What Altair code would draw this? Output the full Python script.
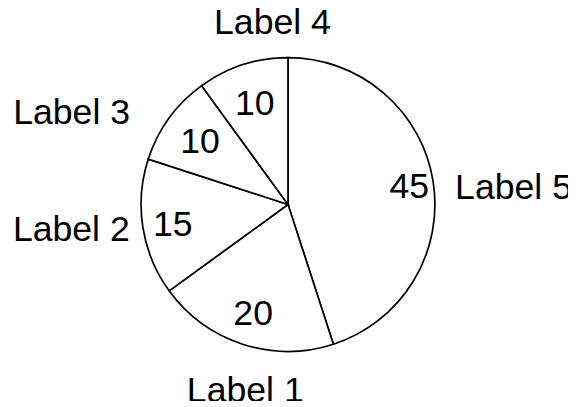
import math
import altair as alt
import pandas as pd

# Data (slices drawn clockwise from 12 o'clock in this order)
labels = ["Label 5", "Label 1", "Label 2", "Label 3", "Label 4"]
values = [45, 20, 15, 10, 10]

df = pd.DataFrame({"label": labels, "value": values, "order": list(range(len(labels)))})

FONT = "Liberation Sans"
FS = 36
R = 148.5

theta_scale = alt.Scale(domain=[0, 1], range=[0, 2 * math.pi])

base = (
    alt.Chart(df)
    .transform_window(cum="sum(value)", sort=[{"field": "order"}])
    .transform_joinaggregate(total="sum(value)")
    .transform_calculate(
        start="(datum.cum - datum.value) / datum.total",
        end="datum.cum / datum.total",
        mid="(datum.cum - datum.value / 2) / datum.total",
    )
)

arcs = base.mark_arc(
    outerRadius=R, fill="white", stroke="black", strokeWidth=1.7
).encode(
    theta=alt.Theta("start:Q", scale=theta_scale),
    theta2="end:Q",
)

# placement styles for the value labels (inside) and name labels (outside)
inner_styles = {
    "Label 5": dict(radius=124),
    "Label 1": dict(radius=114),
    "Label 2": dict(radius=118),
    "Label 3": dict(radius=110),
    "Label 4": dict(radius=109),
}
outer_styles = {
    "Label 5": dict(align="left", radius=171, dx=0, dy=10),
    "Label 1": dict(align="center", radius=198, dx=18, dy=0),
    "Label 2": dict(align="right", radius=164, dx=2, dy=0),
    "Label 3": dict(align="right", radius=164, dx=-27, dy=4),
    "Label 4": dict(align="center", radius=190, dx=43, dy=-3),
}

layers = [arcs]
for name in labels:
    sel = base.transform_filter(alt.datum.label == name)
    ist = inner_styles[name]
    layers.append(
        sel.mark_text(
            font=FONT, fontSize=FS, color="black", baseline="middle",
            align="center", radius=ist["radius"], dy=2,
        ).encode(
            theta=alt.Theta("mid:Q", scale=theta_scale),
            text="value:Q",
        )
    )
    ost = outer_styles[name]
    layers.append(
        sel.mark_text(
            font=FONT, fontSize=FS, color="black", baseline="middle",
            align=ost["align"], radius=ost["radius"], dx=ost["dx"], dy=ost["dy"],
        ).encode(
            theta=alt.Theta("mid:Q", scale=theta_scale),
            text="label:N",
        )
    )

chart = (
    alt.layer(*layers)
    .properties(
        width=566,
        height=393,
        autosize=alt.AutoSizeParams(type="none"),
        padding=0,
        background="white",
    )
    .configure_view(stroke=None)
)

chart.save("out.html", embed_options={"renderer": "svg", "actions": False})
